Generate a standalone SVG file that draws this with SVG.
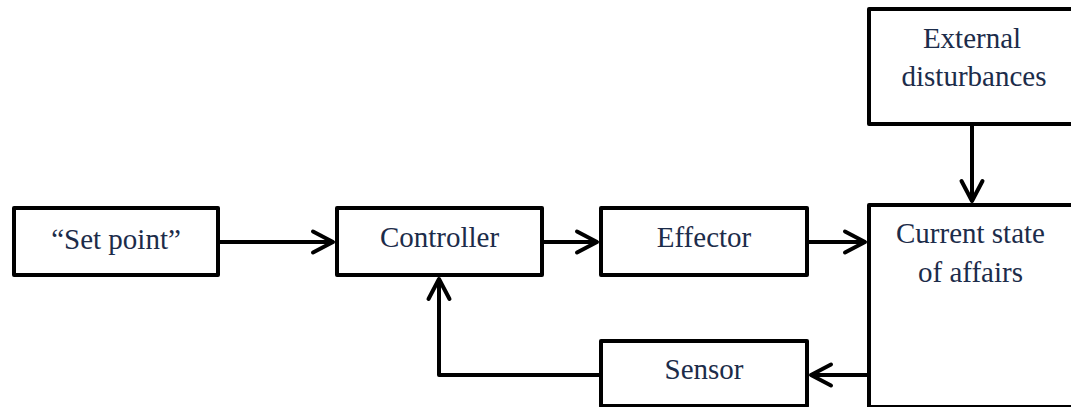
<svg xmlns="http://www.w3.org/2000/svg" width="1071" height="407" viewBox="0 0 1071 407">
  <style>
    .box { fill: #ffffff; stroke: #000000; stroke-width: 4; stroke-linejoin: round; }
    .lbl { font-family: 'Liberation Serif', Tinos, 'Times New Roman', 'DejaVu Serif', 'Noto Serif', serif; font-size: 29px; fill: #1c2c4a; text-anchor: middle; }
    .conn { fill: none; stroke: #000000; stroke-width: 4; stroke-linejoin: round; }
  </style>
  <defs>
    <marker id="chev" markerUnits="userSpaceOnUse" viewBox="-26 -16 32 32" markerWidth="32" markerHeight="32" refX="0" refY="0" orient="auto" overflow="visible">
      <path d="M-20,-10.5 L0,0 L-20,10.5" fill="none" stroke="#000000" stroke-width="4" stroke-linecap="round" stroke-linejoin="round"/>
    </marker>
  </defs>
  <rect width="1071" height="407" fill="#ffffff"/>

  <g id="connectors">
    <path class="conn" d="M220,242 L333,242" marker-end="url(#chev)"/>
    <path class="conn" d="M544,242 L597,242" marker-end="url(#chev)"/>
    <path class="conn" d="M809,242 L865,242" marker-end="url(#chev)"/>
    <path class="conn" d="M972,126 L972,201" marker-end="url(#chev)"/>
    <path class="conn" d="M867,375 L811,375" marker-end="url(#chev)"/>
    <path class="conn" d="M599,375 L439,375 L439,279" marker-end="url(#chev)"/>
  </g>

  <g id="setpoint">
    <rect class="box" x="14" y="208" width="204" height="67"/>
    <text class="lbl" x="116" y="249" font-family="Liberation Serif, serif">“Set point”</text>
  </g>
  <g id="controller">
    <rect class="box" x="337" y="208" width="205" height="67"/>
    <text class="lbl" x="439.5" y="247">Controller</text>
  </g>
  <g id="effector">
    <rect class="box" x="601" y="208" width="206" height="67"/>
    <text class="lbl" x="704" y="247">Effector</text>
  </g>
  <g id="sensor">
    <rect class="box" x="601" y="341" width="206" height="65"/>
    <text class="lbl" x="704" y="379">Sensor</text>
  </g>
  <g id="external">
    <rect class="box" x="869" y="9" width="220" height="115"/>
    <text class="lbl" x="972" y="48">External</text>
    <text class="lbl" x="974" y="86">disturbances</text>
  </g>
  <g id="current">
    <rect class="box" x="869" y="205" width="220" height="202"/>
    <text class="lbl" x="970.5" y="243">Current state</text>
    <text class="lbl" x="970.5" y="282">of affairs</text>
  </g>
</svg>
